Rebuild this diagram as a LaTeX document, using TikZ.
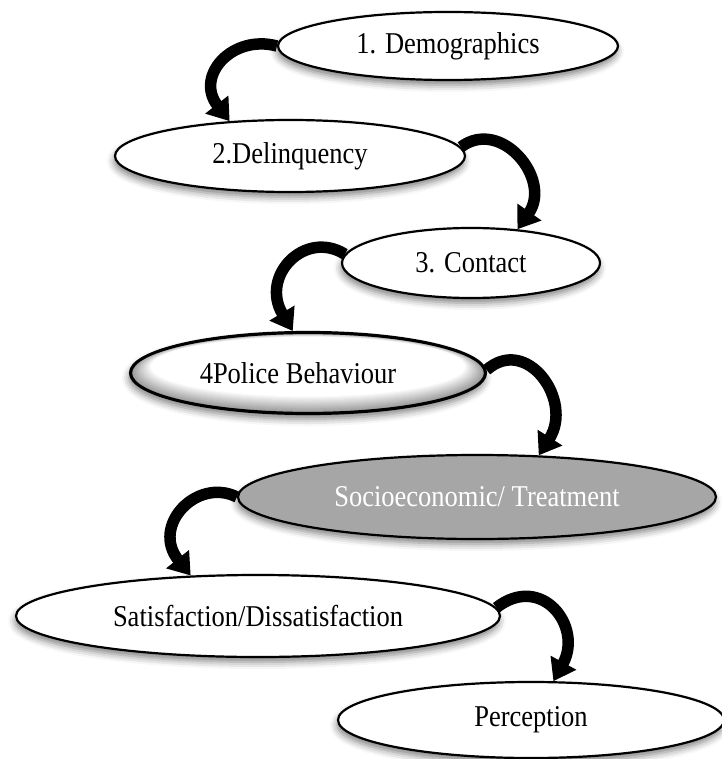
\documentclass[tikz,border=0pt]{standalone}
\usepackage{graphicx}
\usepackage{fontspec}
\setmainfont{Liberation Serif}
\usetikzlibrary{shapes.geometric, shadows.blur, arrows.meta}

\definecolor{stagegray}{HTML}{A6A6A6}
% stage labels are set a little taller than wide
\newcommand{\stagelabel}[1]{\scalebox{1}[1.14]{#1}}

\begin{document}
\begin{tikzpicture}[x=1pt, y=-1pt,
  stage/.style={ellipse, draw=black, line width=2.2pt, fill=white, inner sep=0pt,
    font=\fontsize{26.5}{30}\selectfont,
    blur shadow={shadow xshift=-1pt, shadow yshift=-5pt,
                 shadow blur radius=7pt, shadow opacity=50}},
  flow/.style={line width=11.5pt, -{Triangle[width=28pt, length=21pt]}},
]
\useasboundingbox (0,0) rectangle (721,759);

% stages of the model
\node[stage, minimum width=340pt, minimum height=68pt] (d1) at (448,46) {\stagelabel{1. Demographics}};
\node[stage, minimum width=350pt, minimum height=72pt] (d2) at (290,156) {\stagelabel{2.Delinquency}};
\node[stage, minimum width=258pt, minimum height=70pt] (d3) at (471,263) {\stagelabel{3. Contact}};
\node[stage, minimum width=356pt, minimum height=82pt] (d4) at (308,373) {};
% bevelled face of stage 4: grey rim fading to a white centre set a little high
\begin{scope}
  \clip (d4.center) ellipse [x radius=177pt, y radius=40pt];
  \foreach \k in {0,...,16} {
    \pgfmathsetmacro\sx{1-\k*0.007}
    \pgfmathsetmacro\sy{1-\k*0.016}
    \pgfmathsetmacro\gr{40*(1-\k/16)}
    \fill[black!\gr] ([yshift=\k*0.4pt]d4.center)
      ellipse [x radius=\sx*177pt, y radius=\sy*40pt];
  }
\end{scope}
\draw[line width=2.2pt] (d4.center) ellipse [x radius=177pt, y radius=40pt];
\node[font=\fontsize{26.5}{30}\selectfont] (d4t) at (298,373) {\stagelabel{4Police Behaviour}};
\node[stage, fill=stagegray, text=white, minimum width=478pt, minimum height=84pt] (d5) at (477,497) {\stagelabel{Socioeconomic/ Treatment}};
\node[stage, minimum width=484pt, minimum height=82pt] (d6) at (258,616) {\stagelabel{Satisfaction/Dissatisfaction}};
\node[stage, minimum width=386pt, minimum height=76pt] (d7) at (531,720) {\stagelabel{Perception}};

% curved arrows from one stage to the next
\draw[flow] (d1.180) .. controls +(-45,-12) and +(-35,-45) .. (d2.150);
\draw[flow] (d2.3)   .. controls +(40,-30)  and +(35,-50)  .. (d3.36);
\draw[flow] (d3.176) .. controls +(-40,-25) and +(-33,-55) .. (d4.110);
\draw[flow] (d4.1)   .. controls +(40,-35)  and +(35,-55)  .. (d5.34);
\draw[flow] (d5.180) .. controls +(-40,-20) and +(-40,-50) .. (d6.149);
\draw[flow] (d6.2)   .. controls +(45,-35)  and +(30,-55)  .. (d7.60);
\end{tikzpicture}
\end{document}
